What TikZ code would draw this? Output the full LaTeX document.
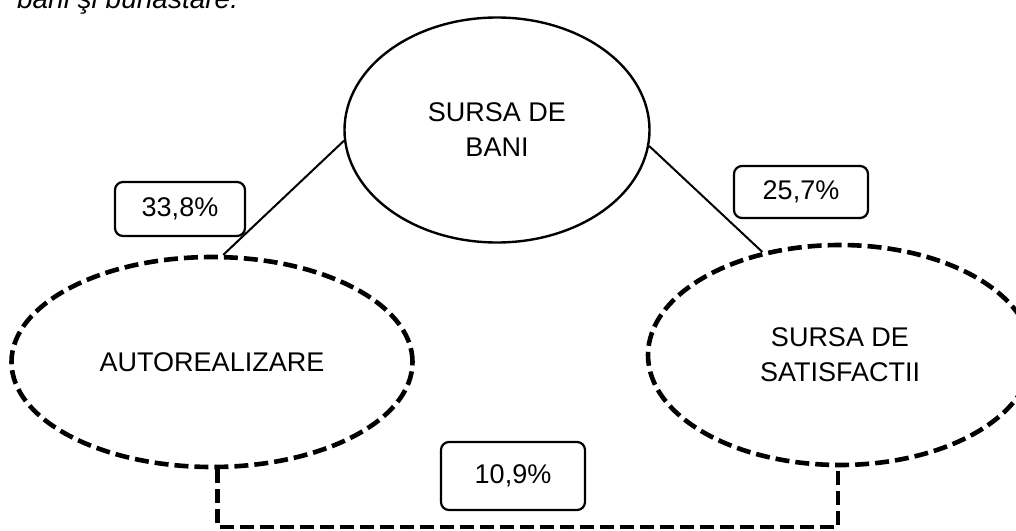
\documentclass[tikz,border=0pt]{standalone}
\usepackage{fontspec}
\setmainfont{Liberation Sans}
\usetikzlibrary{shapes}
\tikzstyle{every picture}+=[x=0.5pt]
\tikzstyle{every picture}+=[y=-0.5pt]
\tikzstyle{every picture}+=[line join=round]
\tikzstyle{every picture}+=[line cap=butt]
\tikzstyle{every node}+=[font=\fontsize{13.5}{17.5}\selectfont]
\tikzstyle{goal}+=[ellipse, draw, inner sep=0pt, align=center]
\tikzstyle{main}+=[goal, line width=1.2pt]
\tikzstyle{side}+=[goal, line width=2.3pt, dash pattern=on 7pt off 3pt]
\tikzstyle{pct}+=[draw, rounded corners=4pt, line width=1.1pt, inner sep=0pt]
\tikzstyle{link}+=[line width=1pt]
\tikzstyle{weak}+=[line width=2.3pt, dash pattern=on 7pt off 3pt]

\begin{document}
\begin{tikzpicture}
\useasboundingbox (0,0) rectangle (1016,530);
\node[anchor=base west, font=\fontsize{14}{17}\selectfont\itshape] (title) at (10,9) {bani şi bunăstare.};

\node[main, minimum width=152.5pt, minimum height=112.5pt] (bani) at (497,130) {SURSA DE\\BANI};
\node[side, minimum width=200.5pt, minimum height=105pt] (auto) at (212,362) {AUTOREALIZARE};
\node[side, minimum width=192pt, minimum height=110pt] (satis) at (840,355) {SURSA DE\\SATISFACTII};

\node[pct, minimum width=65pt, minimum height=27pt] (p_ba) at (180,209) {33,8\%};
\node[pct, minimum width=67pt, minimum height=26pt] (p_bs) at (801,192) {25,7\%};
\node[pct, minimum width=72pt, minimum height=34pt] (p_as) at (513,476) {10,9\%};

\coordinate (low) at (527,527);

\path[link]
   (bani.184) edge (auto.84)
   (bani.-6) edge (satis.127)
;
\draw[weak] (auto.-87) |- (low) -| (satis.-91);
\end{tikzpicture}
\end{document}
